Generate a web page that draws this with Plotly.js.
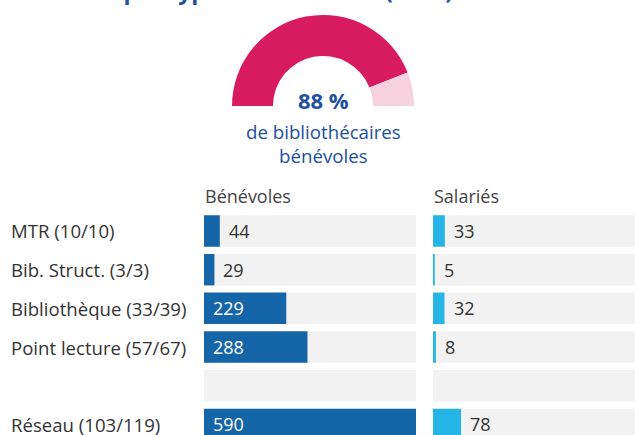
<!DOCTYPE html>
<html>
<head>
<meta charset="utf-8">
<script src="https://cdn.plot.ly/plotly-3.0.1.min.js"></script>
<style>
  html, body { margin: 0; padding: 0; background: #ffffff; }
  #chart { width: 635px; height: 435px; }
</style>
</head>
<body>
<div id="chart"></div>
<script>
// ---- Data ----
const chartTitle = "Effectifs par type de structures (2021)";
const gaugeLabels = ["Bénévoles", "Salariés"];
const gaugeShares = [88, 12];
const gaugeText = "88 %";
const gaugeCaption1 = "de bibliothécaires";
const gaugeCaption2 = "bénévoles";
const columnHeaders = ["Bénévoles", "Salariés"];
const categories = ["MTR (10/10)", "Bib. Struct. (3/3)", "Bibliothèque (33/39)", "Point lecture (57/67)", "", "Réseau (103/119)"];
const benevoles = [44, 29, 229, 288, null, 590];
const salaries = [33, 5, 32, 8, null, 78];

// ---- Styling / layout helpers ----
const W = 635, H = 435;
const px = v => v / W;
const py = v => 1 - v / H;
const FONT = "'Open Sans', Roboto, sans-serif";
const BLUE_TXT = "#2150A0";
const DARK = "#1565A9";
const LIGHT = "#25B4E6";
const BG = "#F2F2F2";
const PINK = "#D81B5F";
const PINK_L = "#F6D1DE";

const maxVal = Math.max(...benevoles.filter(v => v != null));
const rowIdx = categories.map((_, i) => i);

const leftX0 = 204, leftX1 = 416, rightX0 = 433;
const scale = (leftX1 - leftX0) / maxVal;
const rightMax = (W - rightX0) / scale;
const rowTop = 211.6, rowStep = 38.7;
const yMaxVisible = (H - rowTop) / rowStep - 0.5;

const gcx = 323, gcy = 106, gR = 91;

const traces = [
  {
    type: "pie",
    values: [gaugeShares[0], gaugeShares[1], gaugeShares[0] + gaugeShares[1]],
    labels: [gaugeLabels[0], gaugeLabels[1], ""],
    marker: { colors: [PINK, PINK_L, "rgba(0,0,0,0)"], line: { width: 0 } },
    hole: 0.55,
    sort: false,
    direction: "clockwise",
    rotation: -90,
    textinfo: "none",
    hoverinfo: "skip",
    showlegend: false,
    domain: { x: [px(gcx - gR), px(gcx + gR)], y: [py(gcy + gR), py(gcy - gR)] }
  },
  {
    type: "bar", orientation: "h", x: categories.map(() => maxVal), y: rowIdx,
    marker: { color: BG }, xaxis: "x", yaxis: "y", hoverinfo: "skip", showlegend: false
  },
  {
    type: "bar", orientation: "h", x: benevoles, y: rowIdx,
    marker: { color: DARK }, xaxis: "x", yaxis: "y", showlegend: false, name: columnHeaders[0]
  },
  {
    type: "bar", orientation: "h", x: categories.map(() => rightMax), y: rowIdx,
    marker: { color: BG }, xaxis: "x2", yaxis: "y2", hoverinfo: "skip", showlegend: false
  },
  {
    type: "bar", orientation: "h", x: salaries, y: rowIdx,
    marker: { color: LIGHT }, xaxis: "x2", yaxis: "y2", showlegend: false, name: columnHeaders[1]
  }
];

const annotations = [];
annotations.push({
  text: "<b>" + chartTitle + "</b>", xref: "paper", yref: "paper",
  x: px(22), y: 1 + 10 / H, xanchor: "left", yanchor: "middle",
  showarrow: false, font: { family: FONT, size: 23, color: BLUE_TXT }
});
annotations.push({
  text: "<b>" + gaugeText + "</b>", xref: "paper", yref: "paper",
  x: px(gcx), y: py(100), xanchor: "center", yanchor: "middle",
  showarrow: false, font: { family: FONT, size: 22, color: BLUE_TXT }
});
annotations.push({
  text: gaugeCaption1, xref: "paper", yref: "paper",
  x: px(gcx), y: py(131), xanchor: "center", yanchor: "middle",
  showarrow: false, font: { family: FONT, size: 18.7, color: BLUE_TXT }
});
annotations.push({
  text: gaugeCaption2, xref: "paper", yref: "paper",
  x: px(gcx), y: py(155), xanchor: "center", yanchor: "middle",
  showarrow: false, font: { family: FONT, size: 18.7, color: BLUE_TXT }
});
annotations.push({
  text: columnHeaders[0], xref: "paper", yref: "paper",
  x: px(leftX0 - 1), y: py(196), xanchor: "left", yanchor: "middle",
  showarrow: false, font: { family: FONT, size: 18, color: "#444444" }
});
annotations.push({
  text: columnHeaders[1], xref: "paper", yref: "paper",
  x: px(rightX0 - 1), y: py(196), xanchor: "left", yanchor: "middle",
  showarrow: false, font: { family: FONT, size: 18, color: "#444444" }
});
categories.forEach((c, i) => {
  if (!c) return;
  annotations.push({
    text: c, xref: "paper", yref: "y", x: px(9), y: i,
    xanchor: "left", yanchor: "middle", showarrow: false,
    font: { family: FONT, size: 18.6, color: "#333333" }
  });
});
function valueLabels(vals, xref, yref, rangeMax) {
  vals.forEach((v, i) => {
    if (v == null) return;
    const inside = v / rangeMax > 0.25;
    annotations.push({
      text: String(v), xref: xref, yref: yref,
      x: inside ? 0 : v, y: i, xshift: 7,
      xanchor: "left", yanchor: "middle", showarrow: false,
      font: { family: FONT, size: 18, color: inside ? "#ffffff" : "#333333" }
    });
  });
}
valueLabels(benevoles, "x", "y", maxVal);
valueLabels(salaries, "x2", "y2", maxVal);

const hiddenX = { showgrid: false, zeroline: false, showticklabels: false, ticks: "", showline: false, fixedrange: true };

const layout = {
  width: W, height: H,
  margin: { l: 0, r: 0, t: 0, b: 0, pad: 0 },
  paper_bgcolor: "#ffffff", plot_bgcolor: "rgba(0,0,0,0)",
  barmode: "overlay",
  bargap: 0.186,
  showlegend: false,
  font: { family: FONT },
  xaxis: Object.assign({ domain: [px(leftX0), px(leftX1)], range: [0, maxVal], anchor: "y" }, hiddenX),
  xaxis2: Object.assign({ domain: [px(rightX0), 1], range: [0, rightMax], anchor: "y2" }, hiddenX),
  yaxis: Object.assign({ domain: [0, py(rowTop)], range: [yMaxVisible, -0.5], anchor: "x" }, hiddenX),
  yaxis2: Object.assign({ domain: [0, py(rowTop)], range: [yMaxVisible, -0.5], anchor: "x2" }, hiddenX),
  annotations: annotations
};

Plotly.newPlot("chart", traces, layout, { displayModeBar: false, staticPlot: true });
</script>
</body>
</html>
